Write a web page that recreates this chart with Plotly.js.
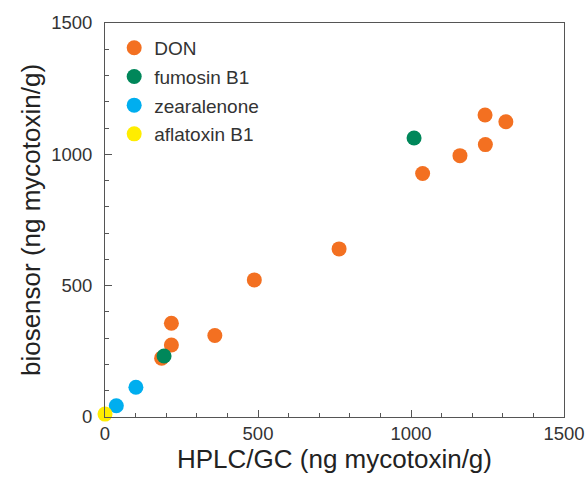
<!DOCTYPE html>
<html>
<head>
<meta charset="utf-8">
<script src="https://cdn.plot.ly/plotly-3.0.1.min.js"></script>
<style>html,body{margin:0;padding:0;background:#fff;}#chart{width:587px;height:481px;}</style>
</head>
<body>
<div id="chart"></div>
<script>
// HPLC/GC (x) vs biosensor (y), ng mycotoxin/g
var seriesNames = ["DON", "fumosin B1", "zearalenone", "aflatoxin B1"];
var seriesColors = ["#F37021", "#00875A", "#00AEEF", "#FFED00"];

var donX = [1242, 1310, 1243, 1160, 1038, 765, 488, 217, 359, 217, 185];
var donY = [1150, 1124, 1037, 995, 927, 640, 522, 357, 310, 274, 224];

var fumX = [1010, 193];
var fumY = [1062, 232];

var zeaX = [101, 37];
var zeaY = [113, 43];

var aflX = [0];
var aflY = [11];

var xTickVals = [0, 500, 1000, 1500];
var yTickVals = [0, 500, 1000, 1500];

var allX = [donX, fumX, zeaX, aflX];
var allY = [donY, fumY, zeaY, aflY];

var FONT = "'Liberation Sans', Arial, sans-serif";

var traces = seriesNames.map(function (name, i) {
  return {
    type: "scatter",
    mode: "markers",
    name: name,
    legendgroup: "g" + i,
    x: allX[i],
    y: allY[i],
    marker: { color: seriesColors[i], size: 15, line: { width: 0 } },
    cliponaxis: false
  };
});

var axisCommon = {
  range: [0, 1500],
  showgrid: false,
  zeroline: false,
  showline: true,
  linecolor: "#555",
  linewidth: 1,
  mirror: true,
  ticks: "inside",
  ticklen: 7,
  tickcolor: "#555",
  tickwidth: 1,
  tickmode: "array",
  tickfont: { family: FONT, size: 18.5, color: "#333" },
  minor: { dtick: 100, ticks: "inside", ticklen: 4, tickcolor: "#555", tickwidth: 1, showgrid: false }
};

var layout = {
  width: 587,
  height: 481,
  margin: { l: 105, r: 23, t: 23, b: 64 },
  paper_bgcolor: "#fff",
  plot_bgcolor: "#fff",
  showlegend: true,
  xaxis: Object.assign({}, axisCommon, {
    tickvals: xTickVals,
    ticktext: xTickVals.map(String),
    title: { text: "HPLC/GC (ng mycotoxin/g)", font: { family: FONT, size: 26, color: "#222" }, standoff: 6 }
  }),
  yaxis: Object.assign({}, axisCommon, {
    tickvals: yTickVals,
    ticktext: yTickVals.map(String),
    ticklabelstandoff: 8,
    title: { text: "biosensor (ng mycotoxin/g)", font: { family: FONT, size: 26, color: "#222" }, standoff: 3 }
  }),
  legend: {
    x: 0.02, y: 0.985, xanchor: "left", yanchor: "top",
    bgcolor: "rgba(0,0,0,0)",
    font: { family: FONT, size: 19, color: "#333" },
    traceorder: "grouped",
    tracegroupgap: 1
  }
};

Plotly.newPlot("chart", traces, layout, { displayModeBar: false, staticPlot: true });
</script>
</body>
</html>
